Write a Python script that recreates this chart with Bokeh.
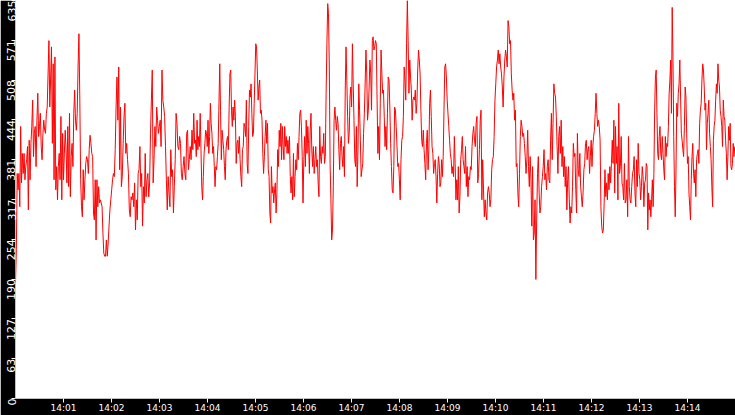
import numpy as np
import pandas as pd
from bokeh.plotting import figure
from bokeh.models import Range1d, FixedTicker
from bokeh.embed import file_html
from bokeh.resources import INLINE

# ---- data: readings, 8 consecutive blocks of 112.5 s each (14:00:00 - 14:15:00)
seg1 = [185, 238, 359, 333, 359, 306, 434, 344, 391, 359, 391, 349, 370, 381, 402, 301, 412, 349, 407, 434,
        476, 386, 423, 434, 370, 444, 487, 418, 434, 455, 402, 381, 423, 444, 428, 423, 455, 465, 518, 571,
        465, 513, 561, 407, 534, 349, 545, 333, 370, 317, 370, 391, 349, 450, 317, 423, 349, 391, 428, 397,
        344, 434, 338, 455, 322, 386, 407, 370, 455, 492, 444, 428, 455, 529, 582, 481, 349, 306, 290, 365,
        317, 349, 375, 386, 381, 359, 397, 420, 407, 391, 386, 296, 285, 349, 253, 349, 306, 338, 312, 317,
        312, 306, 264, 232, 227]
seg2 = [227, 253, 227, 248, 275, 301, 317, 333, 349, 359, 354, 397, 465, 513, 444, 529, 365, 465, 338, 354,
        407, 450, 471, 391, 407, 381, 359, 301, 290, 322, 317, 328, 306, 344, 269, 317, 285, 359, 365, 402,
        338, 359, 275, 338, 312, 391, 322, 349, 359, 322, 344, 423, 476, 524, 344, 381, 434, 402, 465, 444,
        423, 434, 444, 402, 524, 476, 465, 450, 402, 349, 301, 354, 328, 306, 397, 354, 365, 296, 338, 381,
        455, 439, 402, 397, 418, 407, 359, 349, 370, 386, 359, 349, 423, 428, 365, 381, 402, 381, 428, 397,
        455, 407]
seg3 = [412, 386, 444, 397, 418, 402, 455, 397, 338, 317, 354, 391, 407, 428, 423, 402, 444, 391, 418, 471,
        439, 423, 391, 402, 370, 338, 370, 365, 386, 407, 471, 534, 460, 381, 428, 412, 397, 370, 349, 397,
        412, 418, 397, 465, 518, 524, 460, 434, 465, 444, 476, 450, 375, 407, 412, 391, 418, 381, 354, 338,
        397, 402, 439, 434, 418, 476, 375, 359, 434, 492, 481, 502, 455, 418, 423, 471, 518, 566, 561, 524,
        476, 497, 508, 455, 460, 444, 391, 359, 386, 418, 444, 407, 439, 365, 354, 296, 280, 370, 328, 338,
        312, 333, 344, 296, 328, 397, 370, 428, 402, 439, 381, 434, 402, 381, 434]
seg4 = [402, 418, 391, 412, 391, 418, 354, 328, 354, 317, 391, 322, 354, 381, 365, 407, 381, 418, 455, 460,
        434, 386, 312, 381, 418, 370, 444, 391, 434, 407, 359, 428, 455, 397, 370, 402, 359, 381, 402, 370,
        381, 344, 322, 434, 386, 375, 402, 391, 423, 375, 386, 487, 566, 630, 614, 529, 375, 317, 253, 269,
        338, 444, 465, 444, 428, 450, 439, 397, 365, 407, 418, 386, 370, 402, 354, 492, 561, 508, 450, 407,
        423, 481, 497, 465, 566, 502, 444, 381, 370, 434, 338, 397, 502, 460, 412, 354, 365, 375, 423, 455,
        502, 556, 518, 444, 460, 497, 540, 518, 460, 571, 577, 556, 561]
seg5 = [571, 566, 476, 391, 434, 381, 471, 556, 518, 487, 492, 450, 402, 434, 397, 455, 513, 508, 465, 407,
        370, 333, 328, 370, 465, 460, 434, 402, 370, 375, 349, 317, 381, 412, 418, 450, 529, 508, 476, 566,
        635, 571, 487, 540, 513, 492, 444, 476, 481, 476, 492, 455, 471, 524, 556, 540, 518, 460, 412, 402,
        428, 397, 375, 349, 407, 428, 365, 397, 471, 492, 450, 402, 391, 359, 375, 381, 354, 312, 359, 386,
        375, 338, 344, 381, 354, 386, 460, 529, 534, 513, 476, 455, 434, 412, 391, 381, 359, 370, 354, 418,
        375, 317, 349, 317, 370, 296, 322, 381, 397, 418, 381, 370, 359]
seg6 = [402, 338, 370, 322, 354, 349, 370, 365, 402, 423, 434, 412, 402, 439, 450, 344, 359, 397, 444, 460,
        317, 381, 333, 290, 317, 296, 285, 328, 338, 328, 306, 317, 365, 381, 386, 418, 476, 502, 529, 540,
        556, 534, 550, 529, 518, 497, 465, 513, 540, 556, 545, 529, 603, 593, 566, 571, 518, 492, 476, 487,
        444, 460, 370, 375, 328, 306, 359, 418, 444, 434, 418, 423, 407, 386, 359, 381, 428, 370, 338, 386,
        349, 275, 370, 253, 264, 317, 190, 285, 359, 386, 328, 296, 306, 338, 354, 370, 397, 349, 359, 333,
        370, 381, 349, 344, 412, 455, 381, 439, 502, 487]
seg7 = [481, 450, 402, 359, 418, 434, 391, 444, 370, 402, 354, 386, 338, 370, 301, 349, 370, 317, 280, 306,
        296, 338, 407, 386, 391, 333, 296, 423, 365, 354, 391, 338, 322, 306, 328, 365, 375, 407, 412, 381,
        397, 402, 359, 386, 412, 370, 402, 418, 428, 455, 487, 455, 434, 444, 434, 412, 306, 275, 264, 269,
        312, 365, 322, 344, 317, 359, 333, 370, 344, 375, 412, 375, 444, 328, 434, 375, 402, 317, 471, 359,
        370, 418, 344, 338, 317, 375, 312, 317, 349, 290, 418, 338, 317, 312, 338, 359, 365, 386, 328, 306,
        381, 338, 407, 359, 349, 317, 338, 370, 354, 306, 344]
seg8 = [349, 375, 370, 269, 328, 301, 317, 290, 317, 349, 306, 359, 460, 513, 524, 455, 391, 381, 418, 434,
        391, 381, 418, 391, 365, 349, 418, 386, 407, 402, 434, 487, 508, 540, 455, 624, 545, 418, 338, 290,
        365, 471, 450, 487, 502, 540, 481, 423, 412, 397, 386, 434, 497, 481, 423, 375, 386, 328, 306, 285,
        349, 386, 407, 359, 344, 365, 322, 381, 391, 397, 375, 439, 460, 471, 508, 534, 524, 497, 460, 471,
        397, 439, 455, 476, 423, 402, 381, 338, 306, 412, 434, 444, 476, 502, 487, 534, 508, 497, 460, 450,
        434, 402, 476, 450, 444, 412, 391, 349, 386, 434, 412, 439, 370, 365, 375, 407, 386, 402]

segments = [seg1, seg2, seg3, seg4, seg5, seg6, seg7, seg8]

y_ticks = [0, 63.5, 127, 190.5, 254, 317.5, 381, 444.5, 508, 571.5, 635]
y_labels = ["0", "63", "127", "190", "254", "317", "381", "444", "508", "571", "635"]
x_labels = ["14:01", "14:02", "14:03", "14:04", "14:05", "14:06", "14:07",
            "14:08", "14:09", "14:10", "14:11", "14:12", "14:13", "14:14"]

t0 = pd.Timestamp("2024-01-01 14:00:00").value / 1e6  # ms
seg_ms = 112.5 * 1000.0
span_ms = 15 * 60 * 1000.0

times = []
values = []
for k, seg in enumerate(segments):
    start = t0 + k * seg_ms
    times.extend(np.linspace(start, start + seg_ms, len(seg), endpoint=False).tolist())
    values.extend(seg)

x_ticks = [t0 + (i + 1) * 60000.0 for i in range(len(x_labels))]

p = figure(width=735, height=415, x_axis_type="datetime",
           x_range=Range1d(t0, t0 + span_ms), y_range=Range1d(0, 635),
           output_backend="svg", toolbar_location=None,
           min_border=0, min_border_left=0, min_border_right=0,
           min_border_top=0, min_border_bottom=0,
           background_fill_color="white", border_fill_color="black",
           outline_line_color=None)
p.grid.visible = False

p.line(times, values, line_color="#ff0000", line_width=1)

p.xaxis.ticker = FixedTicker(ticks=x_ticks)
p.xaxis.major_label_overrides = dict(zip(x_ticks, x_labels))
p.yaxis.ticker = FixedTicker(ticks=y_ticks)
p.yaxis.major_label_overrides = dict(zip(y_ticks, y_labels))
p.yaxis.major_label_orientation = np.pi / 2

for ax in (p.xaxis[0], p.yaxis[0]):
    ax.axis_line_color = None
    ax.major_tick_line_color = "white"
    ax.major_tick_out = 4
    ax.major_tick_in = 0
    ax.minor_tick_line_color = None
    ax.major_label_text_color = "white"
    ax.major_label_text_font = "DejaVu Sans"
    ax.major_label_standoff = 0
p.xaxis.major_label_text_font_size = "9px"
p.yaxis.major_label_text_font_size = "11px"

open("out.html", "w").write(file_html(p, INLINE))
